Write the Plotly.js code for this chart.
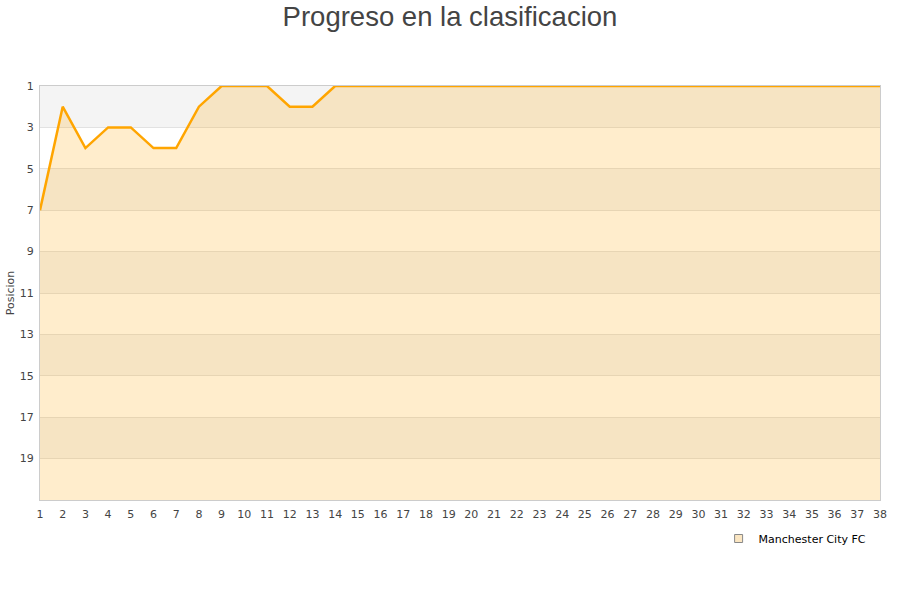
<!DOCTYPE html>
<html>
<head>
<meta charset="utf-8">
<script src="https://cdn.plot.ly/plotly-3.0.1.min.js"></script>
<style>body{margin:0;background:#fff}#chart{width:900px;height:600px}</style>
</head>
<body>
<div id="chart"></div>
<script>
const jornadas = [1,2,3,4,5,6,7,8,9,10,11,12,13,14,15,16,17,18,19,20,21,22,23,24,25,26,27,28,29,30,31,32,33,34,35,36,37,38];
const posiciones = [7,2,4,3,3,4,4,2,1,1,1,2,2,1,1,1,1,1,1,1,1,1,1,1,1,1,1,1,1,1,1,1,1,1,1,1,1,1];
const teamName = "Manchester City FC";
const yTicks = [1,3,5,7,9,11,13,15,17,19];
const numTeams = 20;
const bottomPos = numTeams + 1;

const baseline = jornadas.map(() => bottomPos);

const shapes = [];
for (let i = 0; i < yTicks.length; i += 2) {
  shapes.push({type:'rect', xref:'paper', yref:'y', x0:0, x1:1, y0:yTicks[i], y1:yTicks[i]+2,
    fillcolor:'#f4f4f4', line:{width:0}, layer:'below'});
}

const traces = [
  {x:jornadas, y:baseline, mode:'lines', line:{width:0}, showlegend:false, hoverinfo:'skip'},
  {x:jornadas, y:posiciones, mode:'lines', fill:'tonexty', fillcolor:'rgba(255,165,0,0.2)',
   line:{color:'#ffa500', width:2.5}, showlegend:false, name:teamName},
  {x:[null], y:[null], mode:'markers', name:teamName,
   marker:{symbol:'square', size:8, color:'#fbe6c2', line:{color:'#888', width:1}}}
];

const layout = {
  width:900, height:600,
  paper_bgcolor:'#fff', plot_bgcolor:'#fff',
  margin:{l:40, r:20, t:86, b:100},
  font:{family:'"Liberation Sans", Arial, sans-serif', color:'#444'},
  title:{text:'Progreso en la clasificacion', font:{size:27.5, color:'#444'},
    x:0.5, xanchor:'center', yref:'container', y:0.973, yanchor:'middle'},
  xaxis:{range:[1,38], tickmode:'array', tickvals:jornadas, ticktext:jornadas.map(String),
    showgrid:false, zeroline:false, showline:true, linecolor:'#ccc', mirror:true,
    ticks:'', ticklabelstandoff:4, tickfont:{size:11, color:'#444', family:'"DejaVu Sans", sans-serif'}},
  yaxis:{range:[bottomPos,1], tickmode:'array', tickvals:yTicks,
    showgrid:true, gridcolor:'#e2e2e2', zeroline:false, showline:true, linecolor:'#ccc', mirror:true,
    ticks:'', ticklabelstandoff:3, tickfont:{size:11, color:'#444', family:'"DejaVu Sans", sans-serif'},
    title:{text:'Posicion', font:{size:11, color:'#444', family:'"DejaVu Sans", sans-serif'}, standoff:2}},
  shapes:shapes,
  legend:{orientation:'h', x:0.99, xanchor:'right', y:-0.058, yanchor:'top',
    font:{size:11, color:'#000', family:'"DejaVu Sans", sans-serif'}}
};

Plotly.newPlot('chart', traces, layout, {displayModeBar:false, staticPlot:true});
</script>
</body>
</html>
